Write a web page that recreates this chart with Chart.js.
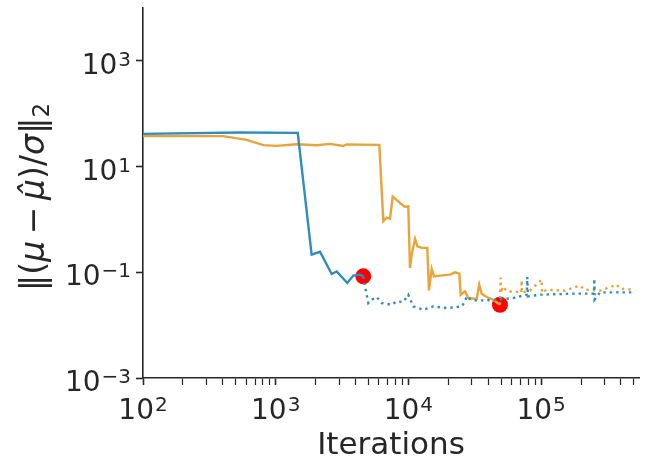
<!DOCTYPE html>
<html>
<head>
<meta charset="utf-8">
<script src="https://cdn.jsdelivr.net/npm/chart.js@4"></script>
<style>
html,body{margin:0;padding:0;background:#fff;}
#wrap{width:648px;height:473px;}
</style>
</head>
<body>
<div id="wrap"><canvas id="c" width="648" height="473"></canvas></div>
<script>
// ---- data ----
const blueSolidX = [100, 539, 1466, 1866, 2158, 2642, 2882, 3465, 3846, 4317, 4571];
const blueSolidY = [41.5, 44.0, 43.5, 0.216, 0.244, 0.093, 0.104, 0.0628, 0.0865, 0.0903, 0.0837];

const blueDotX = [4571, 4710, 4990, 5290, 5770, 6290, 7480, 8160, 9160, 9980, 10890, 12950, 15400, 19440, 25200, 26700, 27500, 30000, 36700, 46200, 61800, 78000, 78700, 79600, 98100, 175000, 250600, 251800, 253000, 278000, 484000];
const blueDotY = [0.0837, 0.054, 0.0262, 0.0303, 0.034, 0.0262, 0.0243, 0.0281, 0.0274, 0.0377, 0.0226, 0.0195, 0.0226, 0.0210, 0.0226, 0.0281, 0.035, 0.0294, 0.0294, 0.0303, 0.0326, 0.0377, 0.0817, 0.035, 0.0377, 0.0394, 0.0394, 0.0759, 0.0303, 0.0417, 0.0417];

const orangeSolidX = [100, 401, 604, 807, 1018, 1440, 2036, 2566, 3229, 3426, 6040, 6470, 6860, 7270, 7620, 8900, 9420, 9980, 10280, 10590, 11220, 11680, 12600, 13880, 14290, 14990, 15600, 17300, 20600, 22440, 24200, 24800, 26700, 28300, 32700, 34200, 35650, 38900, 43600, 49000];
const orangeSolidY = [37.7, 37.7, 32.0, 25.4, 24.6, 26.5, 25.4, 26.9, 24.6, 26.2, 25.7, 0.929, 1.077, 1.03, 2.70, 1.93, 1.74, 1.77, 0.121, 0.216, 0.430, 0.311, 0.290, 0.290, 0.0455, 0.116, 0.0838, 0.0865, 0.0903, 0.0998, 0.0943, 0.0377, 0.0434, 0.0326, 0.0312, 0.0583, 0.0394, 0.034, 0.0303, 0.0243];

const orangeDotX = [49000, 49500, 49900, 51700, 55400, 63600, 71000, 71400, 71800, 82400, 101000, 101500, 110600, 151000, 196000, 214000, 278000, 371000, 394000, 484000];
const orangeDotY = [0.0243, 0.0793, 0.0411, 0.054, 0.0434, 0.0434, 0.0411, 0.0703, 0.0411, 0.0449, 0.0726, 0.0411, 0.0469, 0.0449, 0.0558, 0.0469, 0.0449, 0.0583, 0.049, 0.0469];

const markerX = [4571, 49000];
const markerY = [0.0837, 0.0243];

const xTickValues = [100, 1000, 10000, 100000];
const xTickExps = ['2', '3', '4', '5'];
const yTickValues = [1e-3, 1e-1, 1e1, 1e3];
const yTickExps = ['−3', '−1', '1', '3'];

const xTitle = 'Iterations';
// y title pieces: [text, style]  ('n' normal, 'i' italic, 's' subscript, 'g' operator gap)
const yTitleParts = [['‖(', 'n'], ['μ', 'i'], [' ', 'g'], ['−', 'n'], [' ', 'g'], ['μ̂', 'i'], [')/', 'n'], ['σ', 'i'], ['‖', 'n'], ['2', 's']];

// ---- build ----
const BLUE = '#2E8CC0';
const ORANGE = '#E9A33A';
const INK = '#262626';
const FONT = "'DejaVu Sans', sans-serif";
const BASE_FONT = "28px 'DejaVu Sans', sans-serif";
const EXP_FONT = "20px 'DejaVu Sans', sans-serif";
const YT_SIZE = 33;

function pts(xs, ys) { return xs.map((x, i) => ({x: x, y: ys[i]})); }

const minorX = [];
for (let e = 2; e <= 5; e++) {
  for (let m = 1; m <= 9; m++) {
    const v = m * Math.pow(10, e);
    if (v <= 5.4e5) minorX.push(v);
  }
}

const lineDs = (label, xs, ys, color, dash) => ({
  label: label,
  data: pts(xs, ys),
  showLine: true,
  borderColor: color,
  backgroundColor: color,
  borderWidth: 2.4,
  borderDash: dash,
  pointRadius: 0,
  tension: 0,
  fill: false
});

const labelPlugin = {
  id: 'mathLabels',
  afterDraw(chart) {
    const ctx = chart.ctx;
    const xs = chart.scales.x, ys = chart.scales.y;
    ctx.save();
    ctx.fillStyle = INK;
    ctx.textBaseline = 'alphabetic';
    ctx.textAlign = 'left';
    // tick labels "10^n"
    const measure = (exp) => {
      ctx.font = BASE_FONT;
      const wb = ctx.measureText('10').width;
      ctx.font = EXP_FONT;
      const we = ctx.measureText(exp).width;
      return [wb, we];
    };
    const draw = (x0, base, exp, wb) => {
      ctx.font = BASE_FONT;
      ctx.fillText('10', x0, base);
      ctx.font = EXP_FONT;
      ctx.fillText(exp, x0 + wb + 1, base - 8);
    };
    xTickValues.forEach((v, i) => {
      const px = xs.getPixelForValue(v);
      const [wb, we] = measure(xTickExps[i]);
      draw(px - (wb + 1 + we) / 2, xs.top + 41, xTickExps[i], wb);
    });
    yTickValues.forEach((v, i) => {
      const py = ys.getPixelForValue(v);
      const [wb, we] = measure(yTickExps[i]);
      draw(ys.right - 12 - (wb + 1 + we), py + 13, yTickExps[i], wb);
    });
    // y axis title, rotated
    const fontOf = (st) => {
      if (st === 'i') return 'italic ' + YT_SIZE + "px 'DejaVu Sans', sans-serif";
      if (st === 's') return Math.round(YT_SIZE * 0.7) + "px 'DejaVu Sans', sans-serif";
      return YT_SIZE + "px 'DejaVu Sans', sans-serif";
    };
    const widths = yTitleParts.map(([t, st]) => {
      if (st === 'g') return YT_SIZE * 0.2;
      ctx.font = fontOf(st);
      return ctx.measureText(t).width;
    });
    const total = widths.reduce((a, b) => a + b, 0);
    const cy = (ys.top + ys.bottom) / 2 + 4;
    ctx.translate(44, cy);
    ctx.rotate(-Math.PI / 2);
    let x = -total / 2;
    yTitleParts.forEach(([t, st], i) => {
      if (st !== 'g') {
        ctx.font = fontOf(st);
        ctx.fillText(t, x, st === 's' ? 4.5 : 0);
      }
      x += widths[i];
    });
    ctx.restore();
  }
};

new Chart(document.getElementById('c'), {
  type: 'scatter',
  data: {
    datasets: [
      lineDs('blue dotted', blueDotX, blueDotY, BLUE, [2.4, 4]),
      lineDs('orange dotted', orangeDotX, orangeDotY, ORANGE, [2.4, 4]),
      lineDs('blue', blueSolidX, blueSolidY, BLUE, []),
      lineDs('orange', orangeSolidX, orangeSolidY, ORANGE, []),
      {
        label: 'markers',
        data: pts(markerX, markerY),
        showLine: false,
        pointRadius: 8,
        pointHoverRadius: 8,
        pointBackgroundColor: '#FF0000',
        pointBorderColor: '#FF0000',
        pointBorderWidth: 0
      }
    ]
  },
  plugins: [labelPlugin],
  options: {
    responsive: false,
    animation: false,
    devicePixelRatio: 1,
    layout: {padding: {left: 0, right: 9, top: 8, bottom: 0}},
    plugins: {legend: {display: false}, tooltip: {enabled: false}},
    scales: {
      x: {
        type: 'logarithmic',
        min: 100,
        max: 5.47e5,
        afterBuildTicks: (s) => {
          s.ticks = minorX.map(v => ({value: v, major: xTickValues.includes(v)}));
        },
        afterFit: (s) => { s.height = 95; s.paddingLeft = 0; s.paddingRight = 0; },
        grid: {
          display: true,
          drawOnChartArea: false,
          drawTicks: true,
          tickLength: 7,
          tickColor: INK,
          tickWidth: (ctx) => (ctx.tick && ctx.tick.major ? 1.6 : 1.2)
        },
        border: {display: true, color: INK, width: 1.6},
        ticks: {display: false, autoSkip: false, maxRotation: 0},
        title: {
          display: true,
          text: xTitle,
          color: INK,
          font: {family: FONT, size: 31},
          padding: {top: 0, bottom: 8}
        }
      },
      y: {
        type: 'logarithmic',
        min: 1e-3,
        max: 1e4,
        afterBuildTicks: (s) => {
          s.ticks = yTickValues.map(v => ({value: v, major: true}));
        },
        afterFit: (s) => { s.width = 143; s.paddingTop = 0; s.paddingBottom = 0; },
        grid: {
          display: true,
          drawOnChartArea: false,
          drawTicks: true,
          tickLength: 7,
          tickColor: INK,
          tickWidth: 1.6
        },
        border: {display: true, color: INK, width: 1.6},
        ticks: {display: false, autoSkip: false},
        title: {display: false}
      }
    }
  }
});
</script>
</body>
</html>
